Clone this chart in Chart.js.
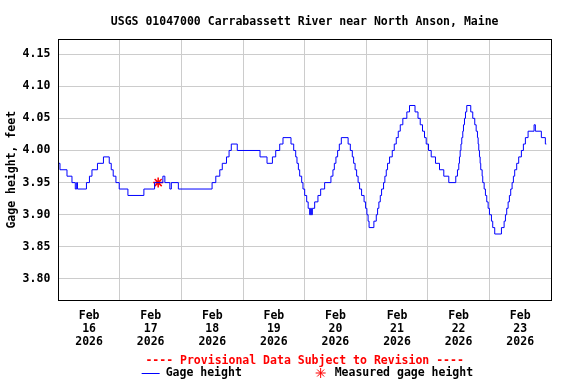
<!DOCTYPE html>
<html>
<head>
<meta charset="utf-8">
<script src="https://cdn.jsdelivr.net/npm/chart.js@4/dist/chart.umd.min.js"></script>
<style>
html, body { margin: 0; padding: 0; background: #fff; }
</style>
</head>
<body>
<canvas id="gageCanvas" width="576" height="384"></canvas>
<script>
// hours since Feb 16 2026 00:00, value changes to gage[i] at hours[i]
const hours = [0, 0.66, 3.39, 5.33, 6.62, 7.16, 7.47, 10.97, 12.14, 13.12, 15.26, 17.59, 19.85, 20.63, 21.40, 22.46, 23.74,
  27.13, 33.35, 37.52, 40.75, 41.53, 43.47, 44.05, 46.78, 59.93, 61.37, 62.93, 63.90, 65.54, 66.55, 67.41, 69.74,
  78.61, 81.34, 83.44, 84.72, 86.28, 87.56, 90.68, 91.73, 92.51, 93.01, 93.56, 94.06, 94.84, 95.35, 96.01, 96.79,
  97.37, 97.95, 98.34, 98.62, 99.01, 99.90, 101.18, 102.24, 103.79, 106.24, 107.02, 107.57, 108.19, 108.85, 109.51,
  110.29, 112.94, 113.80, 114.57, 115.08, 115.66, 116.25, 116.83, 117.41, 118.19, 119.16, 119.75, 120.25, 120.72,
  121.11, 122.98, 123.91, 124.42, 124.92, 125.47, 125.98, 126.75, 127.26, 127.80, 128.31, 129.09, 130.14, 130.92,
  131.70, 132.48, 133.26, 134.26, 135.82, 136.87, 139.01, 140.17, 141.04, 141.93, 142.71, 143.37, 144.27, 145.32,
  146.99, 148.55, 150.22, 152.17, 154.89, 155.55, 156.06, 156.33, 156.60, 156.91, 157.23, 157.62, 157.89, 158.28,
  158.67, 159.17, 160.73, 161.51, 162.29, 162.84, 163.34, 163.61, 163.85, 164.12, 164.39, 164.62, 165.17, 165.40,
  165.95, 166.45, 166.96, 167.50, 168.01, 168.79, 169.29, 170.07, 172.68, 173.73, 174.24, 174.74, 175.29, 175.79,
  176.30, 176.84, 177.35, 177.85, 178.63, 179.41, 180.46, 181.24, 182.02, 183.07, 185.40, 185.91, 188.24, 189.80, 190.19];
const gage = [3.98, 3.97, 3.96, 3.95, 3.94, 3.95, 3.94, 3.95, 3.96, 3.97, 3.98, 3.99, 3.98, 3.97, 3.96, 3.95, 3.94,
  3.93, 3.94, 3.95, 3.96, 3.95, 3.94, 3.95, 3.94, 3.95, 3.96, 3.97, 3.98, 3.99, 4.00, 4.01, 4.00,
  3.99, 3.98, 3.99, 4.00, 4.01, 4.02, 4.01, 4.00, 3.99, 3.98, 3.97, 3.96, 3.95, 3.94, 3.93, 3.92,
  3.91, 3.90, 3.91, 3.90, 3.91, 3.92, 3.93, 3.94, 3.95, 3.96, 3.97, 3.98, 3.99, 4.00, 4.01,
  4.02, 4.01, 4.00, 3.99, 3.98, 3.97, 3.96, 3.95, 3.94, 3.93, 3.92, 3.91, 3.90, 3.89,
  3.88, 3.89, 3.90, 3.91, 3.92, 3.93, 3.94, 3.95, 3.96, 3.97, 3.98, 3.99, 4.00, 4.01,
  4.02, 4.03, 4.04, 4.05, 4.06, 4.07, 4.06, 4.05, 4.04, 4.03, 4.02, 4.01, 4.00, 3.99,
  3.98, 3.97, 3.96, 3.95, 3.96, 3.97, 3.98, 3.99, 4.00, 4.01, 4.02, 4.03, 4.04, 4.05,
  4.06, 4.07, 4.06, 4.05, 4.04, 4.03, 4.02, 4.01, 4.00, 3.99, 3.98, 3.97, 3.96, 3.95,
  3.94, 3.93, 3.92, 3.91, 3.90, 3.89, 3.88, 3.87, 3.88, 3.89, 3.90, 3.91, 3.92, 3.93,
  3.94, 3.95, 3.96, 3.97, 3.98, 3.99, 4.00, 4.01, 4.02, 4.03, 4.04, 4.03, 4.02, 4.01, 4.01];

const measuredHours = [38.92];
const measuredGage = [3.95];

const dayLabels = ['16', '17', '18', '19', '20', '21', '22', '23'];
const yTicks = [3.80, 3.85, 3.90, 3.95, 4.00, 4.05, 4.10, 4.15];

const monoFont = { family: 'DejaVu Sans Mono', size: 11.5, weight: 'bold' };

// full frame round the plot + hand drawn legend row like the USGS graph
const framePlugin = {
  id: 'frame',
  afterDraw(chart) {
    const { ctx, chartArea: a } = chart;
    ctx.save();
    ctx.strokeStyle = '#000';
    ctx.lineWidth = 1;
    ctx.strokeRect(Math.round(a.left) + 0.5, Math.round(a.top) + 0.5,
      Math.round(a.right - a.left), Math.round(a.bottom - a.top));

    const cx = (a.left + a.right) / 2;
    const y = 373;
    ctx.font = 'bold 11.5px "DejaVu Sans Mono"';
    ctx.textBaseline = 'middle';
    ctx.textAlign = 'left';
    ctx.fillStyle = '#000';
    // gage height line
    ctx.strokeStyle = '#0000ff';
    ctx.beginPath();
    ctx.moveTo(cx - 163, y + 0.5);
    ctx.lineTo(cx - 145, y + 0.5);
    ctx.stroke();
    ctx.fillText(chart.data.datasets[0].label, cx - 139, y);
    // measured star
    const sx = cx + 16, r = 5;
    ctx.strokeStyle = '#ff0000';
    ctx.beginPath();
    ctx.moveTo(sx - r, y); ctx.lineTo(sx + r, y);
    ctx.moveTo(sx, y - r); ctx.lineTo(sx, y + r);
    ctx.moveTo(sx - r * 0.7, y - r * 0.7); ctx.lineTo(sx + r * 0.7, y + r * 0.7);
    ctx.moveTo(sx - r * 0.7, y + r * 0.7); ctx.lineTo(sx + r * 0.7, y - r * 0.7);
    ctx.stroke();
    ctx.fillText(chart.data.datasets[1].label, cx + 30, y);
    ctx.restore();
  }
};

const gageCanvas = document.getElementById('gageCanvas');

const gageChart = new Chart(gageCanvas, {
  type: 'line',
  data: {
    datasets: [{
      label: 'Gage height',
      data: hours.map((h, i) => ({ x: h, y: gage[i] })),
      borderColor: '#0000ff',
      borderWidth: 1,
      pointRadius: 0,
      stepped: true,
      fill: false
    }, {
      label: 'Measured gage height',
      data: measuredHours.map((h, i) => ({ x: h, y: measuredGage[i] })),
      showLine: false,
      pointStyle: 'star',
      pointRadius: 5,
      borderColor: '#ff0000',
      backgroundColor: '#ff0000',
      borderWidth: 1.5
    }]
  },
  options: {
    responsive: false,
    animation: false,
    layout: { padding: { left: 0, right: 25, top: 0, bottom: 16 } },
    plugins: {
      legend: { display: false },
      tooltip: { enabled: false },
      title: {
        display: true,
        text: 'USGS 01047000 Carrabassett River near North Anson, Maine',
        color: '#000',
        font: monoFont,
        fullSize: false,
        padding: { top: 15, bottom: 10.5 }
      },
      subtitle: {
        display: true,
        position: 'bottom',
        text: '---- Provisional Data Subject to Revision ----',
        color: '#ff0000',
        font: monoFont,
        fullSize: false,
        weight: 500,
        padding: { top: 6, bottom: 0 }
      }
    },
    scales: {
      x: {
        type: 'linear',
        min: 0,
        max: 192,
        afterBuildTicks: (s) => {
          const t = [];
          for (let d = 0; d <= 8; d++) {
            t.push({ value: d * 24 });
            if (d < 8) t.push({ value: d * 24 + 12 });
          }
          s.ticks = t;
        },
        afterFit: (s) => { s.height = 48; },
        grid: {
          drawTicks: false,
          color: (c) => (c.tick && c.tick.value % 24 === 0 && c.tick.value > 0 && c.tick.value < 192) ? '#cccccc' : 'rgba(0,0,0,0)'
        },
        border: { display: true, color: '#000' },
        ticks: {
          autoSkip: false,
          maxRotation: 0,
          padding: 9,
          color: '#000',
          font: { ...monoFont, lineHeight: 1.13 },
          callback: (v) => (v % 24 === 12) ? ['Feb', dayLabels[Math.floor(v / 24)], '2026'] : ''
        }
      },
      y: {
        min: 3.767,
        max: 4.173,
        afterBuildTicks: (s) => { s.ticks = yTicks.map(v => ({ value: v })); },
        afterFit: (s) => { s.width = 58.3; },
        grid: { drawTicks: false, color: '#cccccc' },
        border: { display: true, color: '#000' },
        ticks: {
          padding: 8,
          color: '#000',
          font: monoFont,
          callback: (v) => v.toFixed(2)
        },
        title: {
          display: true,
          text: 'Gage height, feet',
          color: '#000',
          font: monoFont,
          padding: { top: 5, bottom: 0 }
        }
      }
    }
  },
  plugins: [framePlugin]
});
</script>
</body>
</html>
